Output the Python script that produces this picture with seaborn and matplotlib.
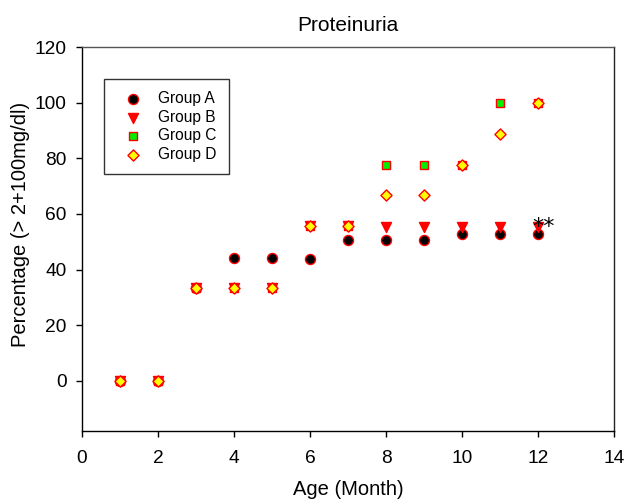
import pandas as pd
import seaborn as sns
import matplotlib.pyplot as plt

months = [1, 2, 3, 4, 5, 6, 7, 8, 9, 10, 11, 12]
group_a = [0, 0, 33.3, 44.1, 44.1, 43.8, 50.8, 50.8, 50.8, 52.8, 52.8, 52.8]
group_b = [0, 0, 33.3, 33.3, 33.3, 55.6, 55.6, 55.2, 55.2, 55.2, 55.2, 55.2]
group_c = [0, 0, 33.3, 33.3, 33.3, 55.6, 55.6, 77.8, 77.8, 77.8, 100, 100]
group_d = [0, 0, 33.3, 33.3, 33.3, 55.6, 55.6, 66.7, 66.7, 77.8, 88.9, 100]

groups = ['Group A', 'Group B', 'Group C', 'Group D']
values = [group_a, group_b, group_c, group_d]
markers = ['o', 'v', 's', 'D']
faces = ['black', 'red', '#00ee00', '#ffff00']
sizes = [52, 52, 40, 32]

rows = []
for g, vals in zip(groups, values):
    for m, v in zip(months, vals):
        rows.append([g, m, v])
df = pd.DataFrame(rows, columns=['group', 'month', 'pct'])

sns.set_style("ticks")
plt.rcParams['font.family'] = ['Liberation Sans', 'DejaVu Sans']
plt.rcParams['text.color'] = 'black'
plt.rcParams['axes.labelcolor'] = 'black'

fig = plt.figure(figsize=(6.27, 4.99), dpi=100)
ax = fig.add_axes([82 / 627, 1 - 430.7 / 499, 532 / 627, 383.4 / 499])

for g, mk, fc, s in zip(groups, markers, faces, sizes):
    sns.scatterplot(data=df[df.group == g], x='month', y='pct', marker=mk,
                    color=fc, edgecolor='red', linewidth=1, s=s, label=g,
                    ax=ax, zorder=3)

# significance mark
ax.text(12.14, 53.2, '**', fontsize=16, ha='center', va='baseline',
        family='DejaVu Sans')

ax.set_xlim(0, 14)
ax.set_ylim(-18, 120)
ax.set_xticks(range(0, 15, 2))
ax.set_yticks(range(0, 121, 20))
ax.tick_params(direction='out', length=4, width=1, labelsize=13.8, colors='black')
ax.tick_params(axis='x', pad=10)
ax.tick_params(axis='y', pad=7)
for sp in ax.spines.values():
    sp.set_visible(True)
    sp.set_linewidth(1)
    sp.set_color('black')
ax.spines['top'].set_color('#555555')
ax.spines['right'].set_color('#222222')

ax.set_title('Proteinuria', fontsize=15, pad=12)
ax.set_xlabel('Age (Month)', fontsize=14.5, labelpad=9)
ax.set_ylabel('Percentage (> 2+100mg/dl)', fontsize=14.5)
ax.yaxis.set_label_coords(-0.0977, 0.539)

leg = ax.legend(loc='upper left', bbox_to_anchor=(22 / 532, 1 - 31.7 / 383.4),
                fontsize=11.2, frameon=True, fancybox=False, edgecolor='black',
                borderpad=0.8, labelspacing=0.22, handlelength=2.13,
                handletextpad=0.54, borderaxespad=0)
leg.get_frame().set_linewidth(1)

fig.savefig('out.png', dpi=100)
